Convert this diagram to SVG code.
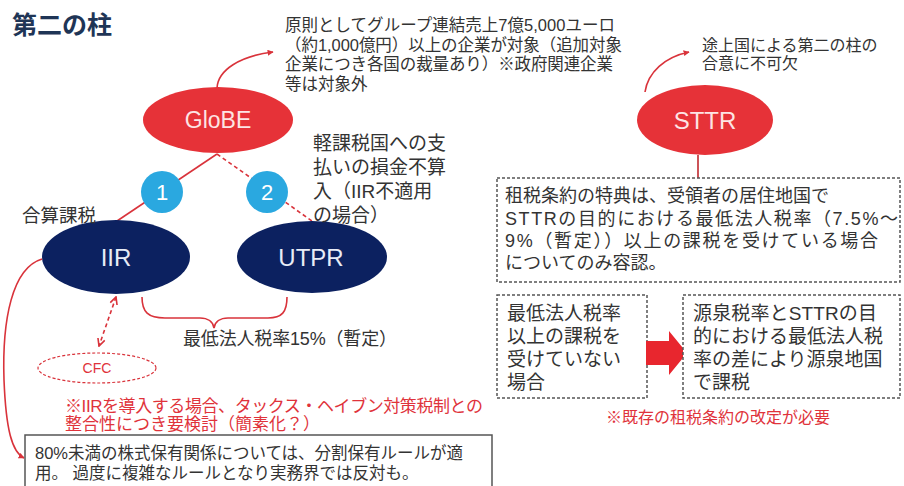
<svg xmlns="http://www.w3.org/2000/svg" width="904" height="486" viewBox="0 0 904 486">
<defs>
<style>
.t{font-family:"Liberation Sans","Noto Sans CJK JP",sans-serif;fill:#333}
.r{fill:#e0333b}
.w{fill:#fde4e4;font-family:"Liberation Sans",sans-serif;text-anchor:middle}
.ln{fill:none;stroke:#d9333b;stroke-width:1.6}
.box{fill:#fff;stroke:#555;stroke-width:1.5;stroke-dasharray:3 2}
</style>
<marker id="ah" viewBox="0 0 10 10" refX="9" refY="5" markerWidth="6" markerHeight="6" orient="auto-start-reverse" markerUnits="userSpaceOnUse">
<path d="M0,0 L10,5 L0,10 Z" fill="#d9333b"/>
</marker>
<marker id="av" viewBox="0 0 10 10" refX="9" refY="5" markerWidth="9" markerHeight="9" orient="auto-start-reverse" markerUnits="userSpaceOnUse">
<path d="M1,1 L9,5 L1,9" fill="none" stroke="#d9333b" stroke-width="1.8"/>
</marker>
</defs>
<rect width="904" height="486" fill="#fff"/>

<text x="12" y="34" class="t" font-size="25" font-weight="bold" style="fill:#1f3556">第二の柱</text>

<g id="connectors">
<path class="ln" d="M217,88 C218,70 240,56 273,52" marker-end="url(#ah)"/>
<path class="ln" d="M645,92 C648,72 665,57 689,52" marker-end="url(#ah)"/>
<line class="ln" x1="217" y1="154" x2="117" y2="221"/>
<line class="ln" x1="217" y1="154" x2="312" y2="221" stroke-dasharray="4 3"/>
<path class="ln" d="M42,259 C12,268 2,320 4,380 C6,430 12,452 24,458" marker-end="url(#ah)"/>
<line class="ln" x1="116" y1="297" x2="99" y2="346" stroke-dasharray="4 3" marker-start="url(#av)" marker-end="url(#av)"/>
<path class="ln" d="M142,297 C142,312 148,318 165,318 L200,318 C208,318 213,322 214,328 C215,322 220,318 228,318 L268,318 C282,318 287,312 287,297" stroke-width="1.3"/>
<line x1="698" y1="155" x2="698" y2="178" stroke="#c0282e" stroke-width="1.6"/>
</g>

<g id="globe">
<ellipse cx="218" cy="120" rx="75" ry="33" fill="#e63238"/>
<text x="218" y="128" class="w" font-size="23">GloBE</text>
</g>
<g id="globe-note">
<text class="t" font-size="16.5">
<tspan x="285" y="31" textLength="330">原則としてグループ連結売上7億5,000ユーロ</tspan>
<tspan x="285" y="50.5" textLength="337">（約1,000億円）以上の企業が対象（追加対象</tspan>
<tspan x="285" y="70" textLength="328">企業につき各国の裁量あり）※政府関連企業</tspan>
<tspan x="285" y="89.5">等は対象外</tspan>
</text>
</g>

<g id="badge1">
<circle cx="162" cy="192" r="21" fill="#2aa8e0"/>
<text x="162" y="200" class="w" font-size="22" style="fill:#fff">1</text>
</g>
<g id="badge2">
<circle cx="267" cy="192" r="21" fill="#2aa8e0"/>
<text x="267" y="200" class="w" font-size="22" style="fill:#fff">2</text>
</g>

<g id="iir">
<ellipse cx="116" cy="257" rx="74" ry="37" fill="#0c2160"/>
<text x="116" y="266" class="w" font-size="24" style="fill:#e8ecf6">IIR</text>
<text x="22" y="222" class="t" font-size="18.5">合算課税</text>
</g>
<g id="utpr">
<ellipse cx="312" cy="257" rx="75" ry="36" fill="#0c2160"/>
<text x="311" y="266" class="w" font-size="24" style="fill:#e8ecf6">UTPR</text>
<text class="t" font-size="19">
<tspan x="313" y="150">軽課税国への支</tspan>
<tspan x="313" y="174">払いの損金不算</tspan>
<tspan x="313" y="198">入（IIR不適用</tspan>
<tspan x="313" y="222">の場合）</tspan>
</text>
</g>

<g id="min-rate">
<text x="183" y="345" class="t" font-size="18" textLength="214">最低法人税率15%（暫定）</text>
</g>

<g id="cfc">
<ellipse cx="97" cy="368" rx="59" ry="15" fill="none" stroke="#d9333b" stroke-width="1.2" stroke-dasharray="3 2"/>
<text x="97" y="373" class="w r" font-size="14" style="fill:#e0333b">CFC</text>
</g>
<g id="cfc-note">
<text class="t r" font-size="17">
<tspan x="65" y="411.5" textLength="418">※IIRを導入する場合、タックス・ヘイブン対策税制との</tspan>
<tspan x="65" y="429.5">整合性につき要検討（簡素化？）</tspan>
</text>
</g>

<g id="split-rule">
<rect x="25" y="435" width="467" height="60" fill="#fff" stroke="#555" stroke-width="1.5"/>
<text class="t" font-size="16.5">
<tspan x="35" y="459" textLength="428">80%未満の株式保有関係については、分割保有ルールが適</tspan>
<tspan x="35" y="479">用。 過度に複雑なルールとなり実務界では反対も。</tspan>
</text>
</g>

<g id="sttr">
<ellipse cx="705" cy="120" rx="68" ry="35" fill="#e63238"/>
<text x="705" y="129" class="w" font-size="24">STTR</text>
<text class="t" font-size="16">
<tspan x="702" y="51">途上国による第二の柱の</tspan>
<tspan x="702" y="69">合意に不可欠</tspan>
</text>
</g>

<g id="treaty-box">
<rect class="box" x="497" y="178" width="403" height="104"/>
<text class="t" font-size="18">
<tspan x="505" y="202">租税条約の特典は、受領者の居住地国で</tspan>
<tspan x="505" y="225" textLength="393">STTRの目的における最低法人税率（7.5%～</tspan>
<tspan x="505" y="247" textLength="373">9%（暫定））以上の課税を受けている場合</tspan>
<tspan x="505" y="269">についてのみ容認。</tspan>
</text>
</g>

<g id="not-taxed">
<rect class="box" x="497" y="295" width="150" height="103"/>
<text class="t" font-size="19">
<tspan x="507" y="320">最低法人税率</tspan>
<tspan x="507" y="343">以上の課税を</tspan>
<tspan x="507" y="366">受けていない</tspan>
<tspan x="507" y="389">場合</tspan>
</text>
</g>

<g id="block-arrow">
<polygon points="646,341 669,341 669,331 687,353 669,375 669,365 646,365" fill="#e8262e"/>
</g>

<g id="source-tax">
<rect class="box" x="683" y="295" width="217" height="103"/>
<text class="t" font-size="19">
<tspan x="693" y="320" textLength="184">源泉税率とSTTRの目</tspan>
<tspan x="693" y="343">的における最低法人税</tspan>
<tspan x="693" y="366">率の差により源泉地国</tspan>
<tspan x="693" y="389">で課税</tspan>
</text>
</g>

<g id="treaty-note">
<text x="718" y="423" class="t r" font-size="16" text-anchor="middle">※既存の租税条約の改定が必要</text>
</g>
</svg>
